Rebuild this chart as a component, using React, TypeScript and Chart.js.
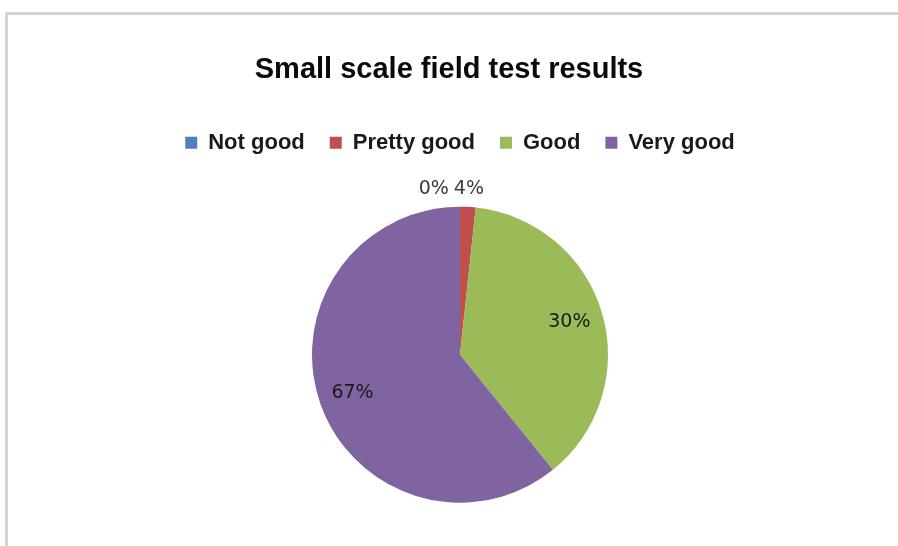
import React, { useEffect, useRef } from 'react';
import { Chart, registerables } from 'chart.js';

Chart.register(...registerables);

// ---- data ----
const categories = ['Not good', 'Pretty good', 'Good', 'Very good'];
const sliceShares = [0, 1.7, 37.5, 60.8];
const shareLabels = ['0%', '4%', '30%', '67%'];
const sliceColors = ['#4F81BD', '#C0504D', '#9BBB59', '#8064A2'];
const chartTitle = 'Small scale field test results';

const sliceLabelPlugin = {
  id: 'sliceLabels',
  afterDatasetsDraw(chart: any) {
    const ctx = chart.ctx;
    const meta = chart.getDatasetMeta(0);
    ctx.save();
    ctx.font = '19px "DejaVu Sans"';
    ctx.textAlign = 'center';
    ctx.textBaseline = 'middle';
    const items = meta.data.map((arc: any, i: number) => {
      const p = arc.getProps(['x', 'y', 'startAngle', 'endAngle', 'outerRadius'], true);
      const mid = (p.startAngle + p.endAngle) / 2;
      const small = sliceShares[i] < 5;
      const r = small ? p.outerRadius + 18 : p.outerRadius * 0.77;
      const text = shareLabels[i];
      return {
        text,
        x: p.x + Math.cos(mid) * r,
        y: p.y + Math.sin(mid) * r,
        w: ctx.measureText(text).width,
        small,
      };
    });
    for (let i = items.length - 2; i >= 0; i--) {
      const a = items[i];
      const b = items[i + 1];
      if (Math.abs(a.y - b.y) < 18) {
        const overlap = a.x + a.w / 2 + 5 - (b.x - b.w / 2);
        if (overlap > 0) a.x -= overlap;
      }
    }
    items.forEach((it: any) => {
      ctx.fillStyle = it.small ? '#3a3a3a' : '#1a1a1a';
      ctx.fillText(it.text, it.x, it.y);
    });
    ctx.restore();
  },
};

export default function App() {
  const canvasRef = useRef<HTMLCanvasElement | null>(null);

  useEffect(() => {
    if (!canvasRef.current) return;
    const chart = new Chart(canvasRef.current, {
      type: 'pie',
      data: {
        labels: categories,
        datasets: [
          {
            data: sliceShares,
            backgroundColor: sliceColors,
            borderWidth: 0,
            radius: 148,
          } as any,
        ],
      },
      options: {
        animation: false,
        responsive: false,
        maintainAspectRatio: false,
        layout: { padding: { bottom: 0.5 } },
        scales: {
          pad: {
            type: 'linear',
            position: 'left',
            display: true,
            grid: { display: false },
            ticks: { display: false },
            border: { display: false },
            afterFit(scale: any) {
              scale.width = 22;
            },
          } as any,
        },
        plugins: {
          title: {
            display: true,
            text: chartTitle,
            color: '#0a0a0a',
            font: { family: '"Liberation Sans", Arial, sans-serif', size: 29, weight: 'bold' },
            padding: { top: 53, bottom: 19 },
          },
          legend: {
            display: true,
            position: 'top',
            fullSize: false,
            labels: {
              color: '#1a1a1a',
              font: { family: '"Liberation Sans", Arial, sans-serif', size: 22, weight: 'bold' },
              boxWidth: 12,
              boxHeight: 12,
              padding: 25,
            },
          },
          tooltip: { enabled: false },
        },
      },
      plugins: [sliceLabelPlugin],
    });
    return () => chart.destroy();
  }, []);

  return (
    <div
      style={{
        position: 'absolute',
        left: 0,
        top: 0,
        width: 898,
        height: 546,
        overflow: 'hidden',
        background: '#ffffff',
      }}
    >
      <div
        style={{
          position: 'absolute',
          left: 5,
          top: 12,
          width: 900,
          height: 540,
          borderTop: '3px solid #d3d3d3',
          borderLeft: '3px solid #d3d3d3',
        }}
      />
      <canvas
        ref={canvasRef}
        width={898}
        height={546}
        style={{ position: 'absolute', left: 0, top: 0, width: 898, height: 546 }}
      />
    </div>
  );
}
